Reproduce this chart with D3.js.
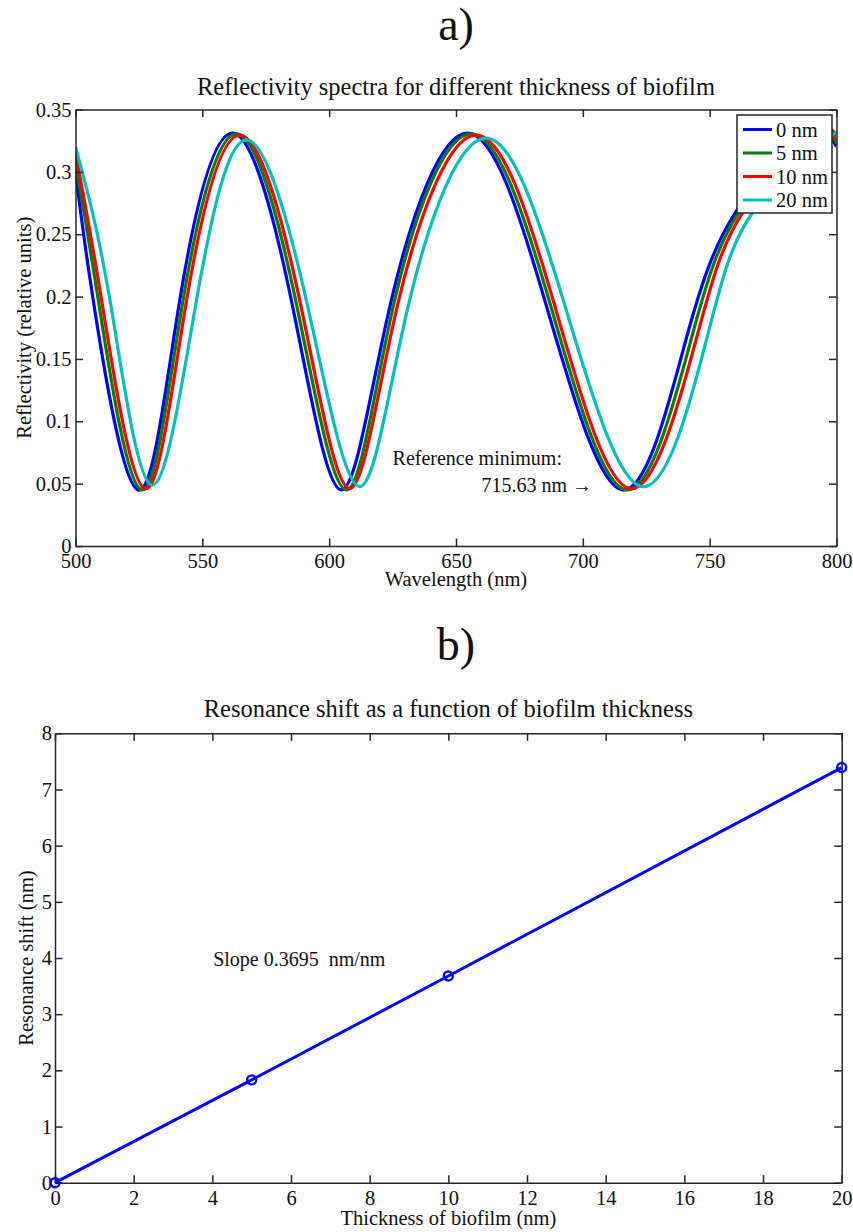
<!DOCTYPE html>
<html>
<head>
<meta charset="utf-8">
<script src="https://cdn.jsdelivr.net/npm/d3@7"></script>
<style>
body { margin: 0; background: #fff; }
text { font-family: "Liberation Serif", "Times New Roman", serif; fill: #111; }
.axis path, .axis line { stroke: #262626; stroke-width: 1.5; }
</style>
</head>
<body>
<svg id="fig" width="853" height="1232"></svg>
<script>
// ---- panel a) : reflectivity spectra (values read off the figure) ----
const seriesNames = ['0 nm', '5 nm', '10 nm', '20 nm'];
const seriesColors = ['#0000ff', '#007f00', '#ff0000', '#00bfbf'];

const wl_0 = [500, 507, 524.7, 541.1, 561.9, 585.1, 604.8, 624.5, 654.6, 685.0, 715.6, 740.6, 760.3, 788, 800];
const refl_0 = [0.3015, 0.197, 0.045, 0.197, 0.331, 0.197, 0.045, 0.197, 0.331, 0.197, 0.045, 0.165, 0.268, 0.331, 0.320];

const wl_5 = [500, 509, 526.0, 542.4, 563.5, 586.8, 606.8, 625.8, 656.0, 686.7, 717.0, 742.6, 761.6, 790, 800];
const refl_5 = [0.308, 0.197, 0.045, 0.197, 0.3305, 0.197, 0.045, 0.197, 0.3305, 0.197, 0.045, 0.165, 0.268, 0.3305, 0.3225];

const wl_10 = [500, 510.3, 527.4, 543.8, 564.8, 588.4, 608.1, 627.4, 658.0, 688.3, 718.6, 744.6, 763.2, 792, 800];
const refl_10 = [0.315, 0.197, 0.046, 0.197, 0.3295, 0.197, 0.046, 0.197, 0.3295, 0.197, 0.046, 0.165, 0.268, 0.3295, 0.3245];

const wl_20 = [500, 513.6, 530.0, 547.7, 567.4, 591.0, 612.0, 631.7, 661.9, 692.3, 723.3, 748.7, 767.1, 797, 800];
const refl_20 = [0.320, 0.197, 0.049, 0.197, 0.3256, 0.197, 0.0476, 0.197, 0.327, 0.197, 0.0476, 0.165, 0.268, 0.3275, 0.327];

const specTicksX = [500, 550, 600, 650, 700, 750, 800];
const specTicksY = [0, 0.05, 0.1, 0.15, 0.2, 0.25, 0.3, 0.35];
const refNoteLine1 = 'Reference minimum:';
const refNoteLine2 = '715.63 nm \u2192';

// ---- panel b) : resonance shift ----
const thickness = [0, 5, 10, 20];
const shift = [0, 1.83, 3.68, 7.39];
const shiftTicksX = [0, 2, 4, 6, 8, 10, 12, 14, 16, 18, 20];
const shiftTicksY = [0, 1, 2, 3, 4, 5, 6, 7, 8];
const slopeNote = 'Slope 0.3695\u00a0 nm/nm';

const svg = d3.select('#fig');
const tick = 7.5;

function boxAxes(g, x, y, ticksX, ticksY, fmtY, padY) {
    const w = x.range()[1] - x.range()[0];
    const h = y.range()[0] - y.range()[1];
    g.append('g').attr('class', 'axis').attr('transform', 'translate(0,' + h + ')')
        .call(d3.axisBottom(x).tickValues(ticksX).tickSizeInner(-tick).tickSizeOuter(0).tickPadding(7.5));
    g.append('g').attr('class', 'axis')
        .call(d3.axisTop(x).tickValues(ticksX).tickSizeInner(-tick).tickSizeOuter(0).tickFormat(''));
    g.append('g').attr('class', 'axis')
        .call(d3.axisLeft(y).tickValues(ticksY).tickSizeInner(-tick).tickSizeOuter(0).tickPadding(padY).tickFormat(fmtY));
    g.append('g').attr('class', 'axis').attr('transform', 'translate(' + w + ',0)')
        .call(d3.axisRight(y).tickValues(ticksY).tickSizeInner(-tick).tickSizeOuter(0).tickFormat(''));
    g.selectAll('.axis text').style('font-size', '20.5px').attr('fill', '#111')
        .style('font-family', '"Liberation Serif", serif');
}

// ================= panel a =================
const mA = {left: 75.5, top: 109.5, right: 836.5, bottom: 546};
const xA = d3.scaleLinear().domain([500, 800]).range([0, mA.right - mA.left]);
const yA = d3.scaleLinear().domain([0, 0.35]).range([mA.bottom - mA.top, 0]);
const gA = svg.append('g').attr('transform', 'translate(' + mA.left + ',' + mA.top + ')');

svg.append('text').attr('x', 456).attr('y', 40).attr('text-anchor', 'middle')
    .style('font-size', '46px').text('a)');
svg.append('text').attr('x', (mA.left + mA.right) / 2).attr('y', 95).attr('text-anchor', 'middle')
    .style('font-size', '24.5px').text('Reflectivity spectra for different thickness of biofilm');

gA.append('defs').append('clipPath').attr('id', 'clipA')
    .append('rect').attr('width', xA.range()[1]).attr('height', yA.range()[0]);

const spectra = [[wl_0, refl_0], [wl_5, refl_5], [wl_10, refl_10], [wl_20, refl_20]]
    .map(function(s) { return s[0].map(function(w, i) { return [w, s[1][i]]; }); });

const specLine = d3.line()
    .x(function(d) { return xA(d[0]); })
    .y(function(d) { return yA(d[1]); })
    .curve(d3.curveNatural);

gA.append('g').attr('clip-path', 'url(#clipA)')
    .selectAll('path').data(spectra).enter().append('path')
    .attr('d', specLine)
    .attr('fill', 'none')
    .attr('stroke', function(d, i) { return seriesColors[i]; })
    .attr('stroke-width', 3.2);

boxAxes(gA, xA, yA, specTicksX, specTicksY, function(d) { return d3.format('~g')(d); }, 4);

gA.append('text').attr('x', xA(625)).attr('y', yA(0.0646))
    .style('font-size', '20px').text(refNoteLine1);
gA.append('text').attr('x', xA(703.6)).attr('y', yA(0.0435)).attr('text-anchor', 'end')
    .style('font-size', '20px').text(refNoteLine2);

svg.append('text').attr('x', (mA.left + mA.right) / 2).attr('y', 586).attr('text-anchor', 'middle')
    .style('font-size', '20.5px').text('Wavelength (nm)');
svg.append('text').attr('transform', 'translate(31,' + (mA.top + mA.bottom) / 2 + ') rotate(-90)')
    .attr('text-anchor', 'middle').style('font-size', '20.5px').text('Reflectivity (relative units)');

// legend
const leg = svg.append('g').attr('transform', 'translate(737,115)');
leg.append('rect').attr('width', 95).attr('height', 98)
    .attr('fill', '#fff').attr('stroke', '#262626').attr('stroke-width', 1.5);
seriesNames.forEach(function(name, i) {
    const cy = 14.5 + i * 23.5;
    leg.append('line').attr('x1', 6).attr('x2', 35).attr('y1', cy).attr('y2', cy)
        .attr('stroke', seriesColors[i]).attr('stroke-width', 3);
    leg.append('text').attr('x', 39).attr('y', cy + 7).style('font-size', '20.5px').text(name);
});

// ================= panel b =================
const mB = {left: 55, top: 733.3, right: 841.7, bottom: 1182.7};
const xB = d3.scaleLinear().domain([0, 20]).range([0, mB.right - mB.left]);
const yB = d3.scaleLinear().domain([0, 8]).range([mB.bottom - mB.top, 0]);
const gB = svg.append('g').attr('transform', 'translate(' + mB.left + ',' + mB.top + ')');

svg.append('text').attr('x', 456).attr('y', 660).attr('text-anchor', 'middle')
    .style('font-size', '46px').text('b)');
svg.append('text').attr('x', (mB.left + mB.right) / 2).attr('y', 716.5).attr('text-anchor', 'middle')
    .style('font-size', '24.5px').text('Resonance shift as a function of biofilm thickness');

boxAxes(gB, xB, yB, shiftTicksX, shiftTicksY, d3.format('d'), 3);

const pts = thickness.map(function(t, i) { return [t, shift[i]]; });
gB.append('path').datum(pts)
    .attr('d', d3.line().x(function(d) { return xB(d[0]); }).y(function(d) { return yB(d[1]); }))
    .attr('fill', 'none').attr('stroke', '#0000ff').attr('stroke-width', 3);
gB.selectAll('circle').data(pts).enter().append('circle')
    .attr('cx', function(d) { return xB(d[0]); })
    .attr('cy', function(d) { return yB(d[1]); })
    .attr('r', 4.5).attr('fill', 'none').attr('stroke', '#0000ff').attr('stroke-width', 2.4);

gB.append('text').attr('x', xB(4.02)).attr('y', yB(3.86))
    .style('font-size', '20px').text(slopeNote);

svg.append('text').attr('x', (mB.left + mB.right) / 2).attr('y', 1225).attr('text-anchor', 'middle')
    .style('font-size', '20.5px').text('Thickness of biofilm (nm)');
svg.append('text').attr('transform', 'translate(33,' + (mB.top + mB.bottom) / 2 + ') rotate(-90)')
    .attr('text-anchor', 'middle').style('font-size', '20.5px').text('Resonance shift (nm)');
</script>
</body>
</html>
